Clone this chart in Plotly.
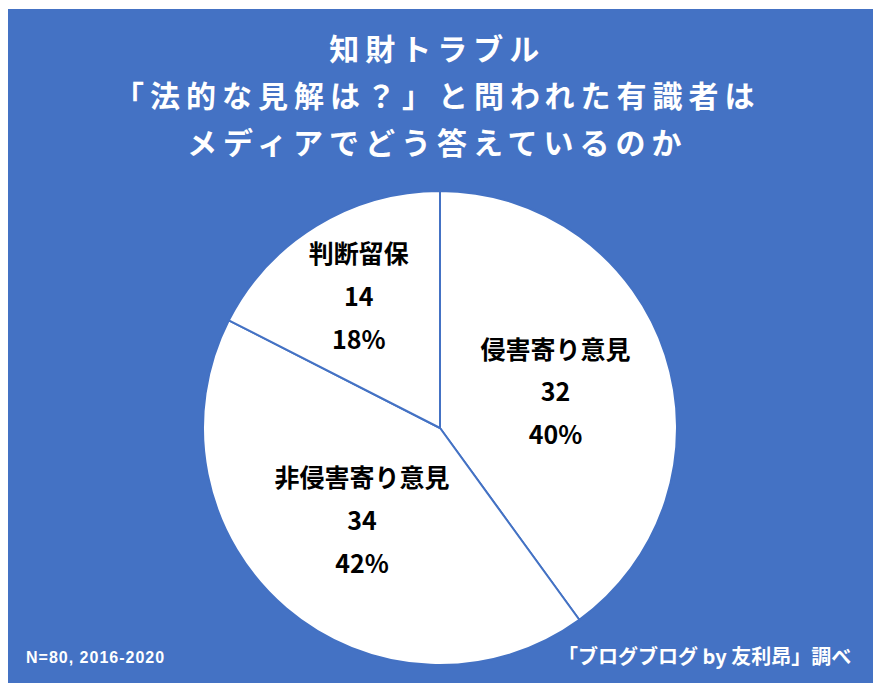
import plotly.graph_objects as go

# the page body has an 8px margin, so the figure is drawn 8px in from the corner
OFF = 8
W, H = 881 - OFF, 691 - 2 * OFF
BLUE = '#4472C4'
FONT = 'Noto Sans CJK JP'

# pie data (clockwise from 12 o'clock)
labels = ['侵害寄り意見', '非侵害寄り意見', '判断留保']
counts = [32, 34, 14]
pct_labels = ['40%', '42%', '18%']

title_lines = ['知財トラブル', '「法的な見解は？」と問われた有識者は', 'メディアでどう答えているのか']
note_left = 'N=80, 2016-2020'
note_right = '「ブログブログ by 友利昂」調べ'


def px_x(x):
    return (x - OFF) / W


def px_y(y):
    return 1 - (y - OFF) / H


span = "<span style='font-size:25px'><b>{}</b></span>"
template = '<br>'.join(span.format(s) for s in ['%{label}', '%{value}', '%{text}'])

fig = go.Figure(go.Pie(
    labels=labels,
    values=counts,
    text=pct_labels,
    sort=False,
    direction='clockwise',
    rotation=0,
    texttemplate=template,
    textposition='inside',
    insidetextorientation='horizontal',
    textfont=dict(family=FONT, size=33, color='black'),
    marker=dict(colors=['white'] * 3, line=dict(color=BLUE, width=2)),
    hoverinfo='label+value+percent',
    domain=dict(x=[px_x(440 - 237), px_x(440 + 237)], y=[px_y(665), px_y(191)]),
    showlegend=False,
))

title_html = '<br>'.join(
    f"<span style='font-size:30px;letter-spacing:6px'><b>{t}</b></span>" for t in title_lines)

fig.update_layout(
    width=W, height=H,
    margin=dict(l=0, r=0, t=0, b=0),
    paper_bgcolor='white',
    plot_bgcolor='white',
    font=dict(family=FONT),
    shapes=[dict(type='rect', xref='paper', yref='paper', layer='below',
                 x0=0, x1=px_x(873), y0=0, y1=px_y(9),
                 fillcolor=BLUE, line=dict(width=0))],
    annotations=[
        dict(text=title_html, xref='paper', yref='paper', x=px_x(437), y=px_y(94),
             xanchor='center', yanchor='middle', showarrow=False, align='center',
             font=dict(family=FONT, size=36, color='white')),
        dict(text=f"<span style='letter-spacing:1px'><b>{note_left}</b></span>",
             xref='paper', yref='paper', x=px_x(24), y=px_y(657),
             xanchor='left', yanchor='middle', showarrow=False,
             font=dict(family='Liberation Sans', size=16, color='white')),
        dict(text=f'<b>{note_right}</b>', xref='paper', yref='paper', x=px_x(853), y=px_y(655),
             xanchor='right', yanchor='middle', showarrow=False,
             font=dict(family=FONT, size=20, color='white')),
    ],
)

fig.write_html('out.html')
